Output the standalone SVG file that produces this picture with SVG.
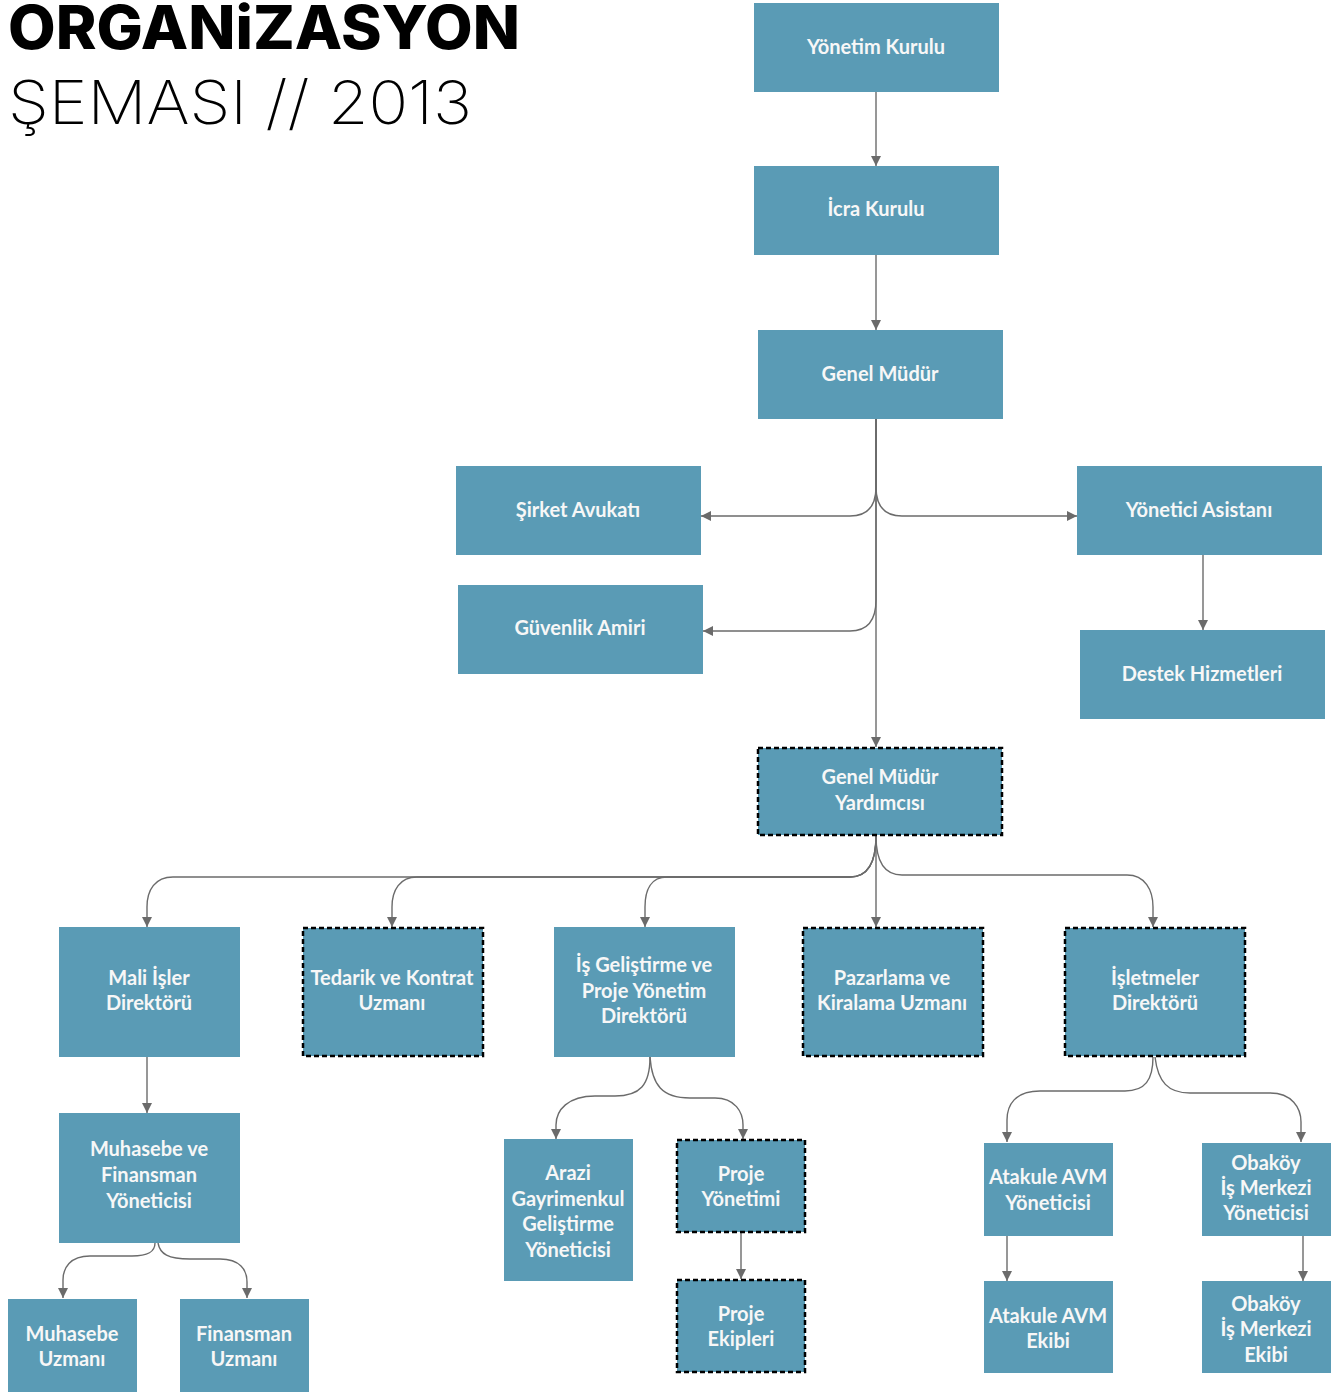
<svg xmlns="http://www.w3.org/2000/svg" width="1338" height="1392" viewBox="0 0 1338 1392">
<defs>
<marker id="ah" viewBox="0 0 10 10" refX="10" refY="5" markerWidth="10" markerHeight="10" markerUnits="userSpaceOnUse" orient="auto">
<path d="M0,0 L10,5 L0,10 Z" fill="#6b6b6b"/>
</marker>
<style>
.n{fill:#5a9bb5}
.d{fill:#5a9bb5;stroke:#000;stroke-width:2.5;stroke-dasharray:5 3}
.t{font-family:Lato,"Open Sans","DejaVu Sans",sans-serif;font-weight:700;font-size:20px;fill:#f7f7f7;text-anchor:middle}
.c{fill:none;stroke:#6b6b6b;stroke-width:1.4;marker-end:url(#ah)}
.h1{font-family:Inter,"Liberation Sans",sans-serif;font-weight:800;font-size:60px;fill:#000}
.h2{font-family:Inter,"Liberation Sans",sans-serif;font-weight:200;font-size:60px;fill:#000}
</style>
</defs>
<rect width="1338" height="1392" fill="#fff"/>
<g id="title">
<text class="h1" x="8" y="49" textLength="512" lengthAdjust="spacingAndGlyphs">ORGANiZASYON</text>
<text class="h2" x="8" y="124" textLength="464" lengthAdjust="spacingAndGlyphs">ŞEMASI // 2013</text>
</g>
<g id="connectors">
<path class="c" d="M876 92 V166"/>
<path class="c" d="M876 255 V330"/>
<path class="c" d="M876 419 V487 C876 506 868 516 850 516 H701"/>
<path class="c" d="M876 419 V487 C876 506 884 516 902 516 H1077"/>
<path class="c" d="M876 419 V600 C876 620 868 631 850 631 H703"/>
<path class="c" d="M876 419 V747"/>
<path class="c" d="M1203 555 V630"/>
<path class="c" d="M876 836 C876 862 868 877 850 877 H173 C155 877 147 890 147 907 V927"/>
<path class="c" d="M876 836 C876 862 868 877 850 877 H417 C400 877 392 890 392 907 V927"/>
<path class="c" d="M876 836 C876 862 868 877 850 877 H667 C651 877 645 890 645 907 V927"/>
<path class="c" d="M876 836 V927"/>
<path class="c" d="M876 836 C876 862 884 875 902 875 H1127 C1145 875 1153 890 1153 907 V927"/>
<path class="c" d="M147 1057 V1113"/>
<path class="c" d="M155 1243 C155 1252 148 1256 132 1256 H90 C70 1256 63 1268 63 1280 V1298"/>
<path class="c" d="M158 1243 C160 1254 168 1259 190 1259 H220 C240 1259 247 1270 247 1282 V1298"/>
<path class="c" d="M650 1057 C650 1085 640 1096 615 1096 H595 C568 1096 556 1110 556 1125 V1139"/>
<path class="c" d="M650 1057 C652 1085 662 1098 690 1098 H715 C735 1098 743 1112 743 1125 V1139"/>
<path class="c" d="M741 1232 V1279"/>
<path class="c" d="M1153 1057 C1153 1080 1145 1091 1125 1091 H1040 C1015 1091 1007 1105 1007 1120 V1142"/>
<path class="c" d="M1155 1057 C1158 1082 1168 1093 1190 1093 H1270 C1292 1093 1301 1108 1301 1122 V1142"/>
<path class="c" d="M1007 1236 V1281"/>
<path class="c" d="M1303 1236 V1281"/>
</g>
<g id="yonetim-kurulu"><rect class="n" x="754" y="3" width="245" height="89"/><text class="t" x="876" y="54">Yönetim Kurulu</text></g>
<g id="icra-kurulu"><rect class="n" x="754" y="166" width="245" height="89"/><text class="t" x="876" y="216">İcra Kurulu</text></g>
<g id="genel-mudur"><rect class="n" x="758" y="330" width="245" height="89"/><text class="t" x="880" y="381">Genel Müdür</text></g>
<g id="sirket-avukati"><rect class="n" x="456" y="466" width="245" height="89"/><text class="t" x="578" y="517">Şirket Avukatı</text></g>
<g id="guvenlik-amiri"><rect class="n" x="458" y="585" width="245" height="89"/><text class="t" x="580" y="635">Güvenlik Amiri</text></g>
<g id="yonetici-asistani"><rect class="n" x="1077" y="466" width="245" height="89"/><text class="t" x="1199" y="517">Yönetici Asistanı</text></g>
<g id="destek-hizmetleri"><rect class="n" x="1080" y="630" width="245" height="89"/><text class="t" x="1202" y="681">Destek Hizmetleri</text></g>
<g id="genel-mudur-yardimcisi"><rect class="d" x="758" y="748" width="244" height="87"/><text class="t" x="880" y="784">Genel Müdür</text><text class="t" x="880" y="810">Yardımcısı</text></g>
<g id="mali-isler"><rect class="n" x="59" y="927" width="181" height="130"/><text class="t" x="149" y="985">Mali İşler</text><text class="t" x="149" y="1010">Direktörü</text></g>
<g id="tedarik"><rect class="d" x="303" y="928" width="180" height="128"/><text class="t" x="392" y="985">Tedarik ve Kontrat</text><text class="t" x="392" y="1010">Uzmanı</text></g>
<g id="is-gelistirme"><rect class="n" x="554" y="927" width="181" height="130"/><text class="t" x="644" y="972">İş Geliştirme ve</text><text class="t" x="644" y="998">Proje Yönetim</text><text class="t" x="644" y="1023">Direktörü</text></g>
<g id="pazarlama"><rect class="d" x="803" y="928" width="180" height="128"/><text class="t" x="892" y="985">Pazarlama ve</text><text class="t" x="892" y="1010">Kiralama Uzmanı</text></g>
<g id="isletmeler"><rect class="d" x="1065" y="928" width="180" height="128"/><text class="t" x="1155" y="985">İşletmeler</text><text class="t" x="1155" y="1010">Direktörü</text></g>
<g id="muhasebe-finansman"><rect class="n" x="59" y="1113" width="181" height="130"/><text class="t" x="149" y="1156">Muhasebe ve</text><text class="t" x="149" y="1182">Finansman</text><text class="t" x="149" y="1208">Yöneticisi</text></g>
<g id="muhasebe-uzmani"><rect class="n" x="8" y="1299" width="129" height="93"/><text class="t" x="72" y="1341">Muhasebe</text><text class="t" x="72" y="1366">Uzmanı</text></g>
<g id="finansman-uzmani"><rect class="n" x="180" y="1299" width="129" height="93"/><text class="t" x="244" y="1341">Finansman</text><text class="t" x="244" y="1366">Uzmanı</text></g>
<g id="arazi"><rect class="n" x="504" y="1139" width="129" height="142"/><text class="t" x="568" y="1180">Arazi</text><text class="t" x="568" y="1206">Gayrimenkul</text><text class="t" x="568" y="1231">Geliştirme</text><text class="t" x="568" y="1257">Yöneticisi</text></g>
<g id="proje-yonetimi"><rect class="d" x="677" y="1140" width="128" height="92"/><text class="t" x="741" y="1181">Proje</text><text class="t" x="741" y="1206">Yönetimi</text></g>
<g id="proje-ekipleri"><rect class="d" x="677" y="1280" width="128" height="92"/><text class="t" x="741" y="1321">Proje</text><text class="t" x="741" y="1346">Ekipleri</text></g>
<g id="atakule-yoneticisi"><rect class="n" x="984" y="1143" width="129" height="93"/><text class="t" x="1048" y="1184">Atakule AVM</text><text class="t" x="1048" y="1210">Yöneticisi</text></g>
<g id="obakoy-yoneticisi"><rect class="n" x="1202" y="1143" width="129" height="93"/><text class="t" x="1266" y="1170">Obaköy</text><text class="t" x="1266" y="1195">İş Merkezi</text><text class="t" x="1266" y="1220">Yöneticisi</text></g>
<g id="atakule-ekibi"><rect class="n" x="984" y="1281" width="129" height="92"/><text class="t" x="1048" y="1323">Atakule AVM</text><text class="t" x="1048" y="1348">Ekibi</text></g>
<g id="obakoy-ekibi"><rect class="n" x="1202" y="1281" width="129" height="92"/><text class="t" x="1266" y="1311">Obaköy</text><text class="t" x="1266" y="1336">İş Merkezi</text><text class="t" x="1266" y="1362">Ekibi</text></g>
</svg>
